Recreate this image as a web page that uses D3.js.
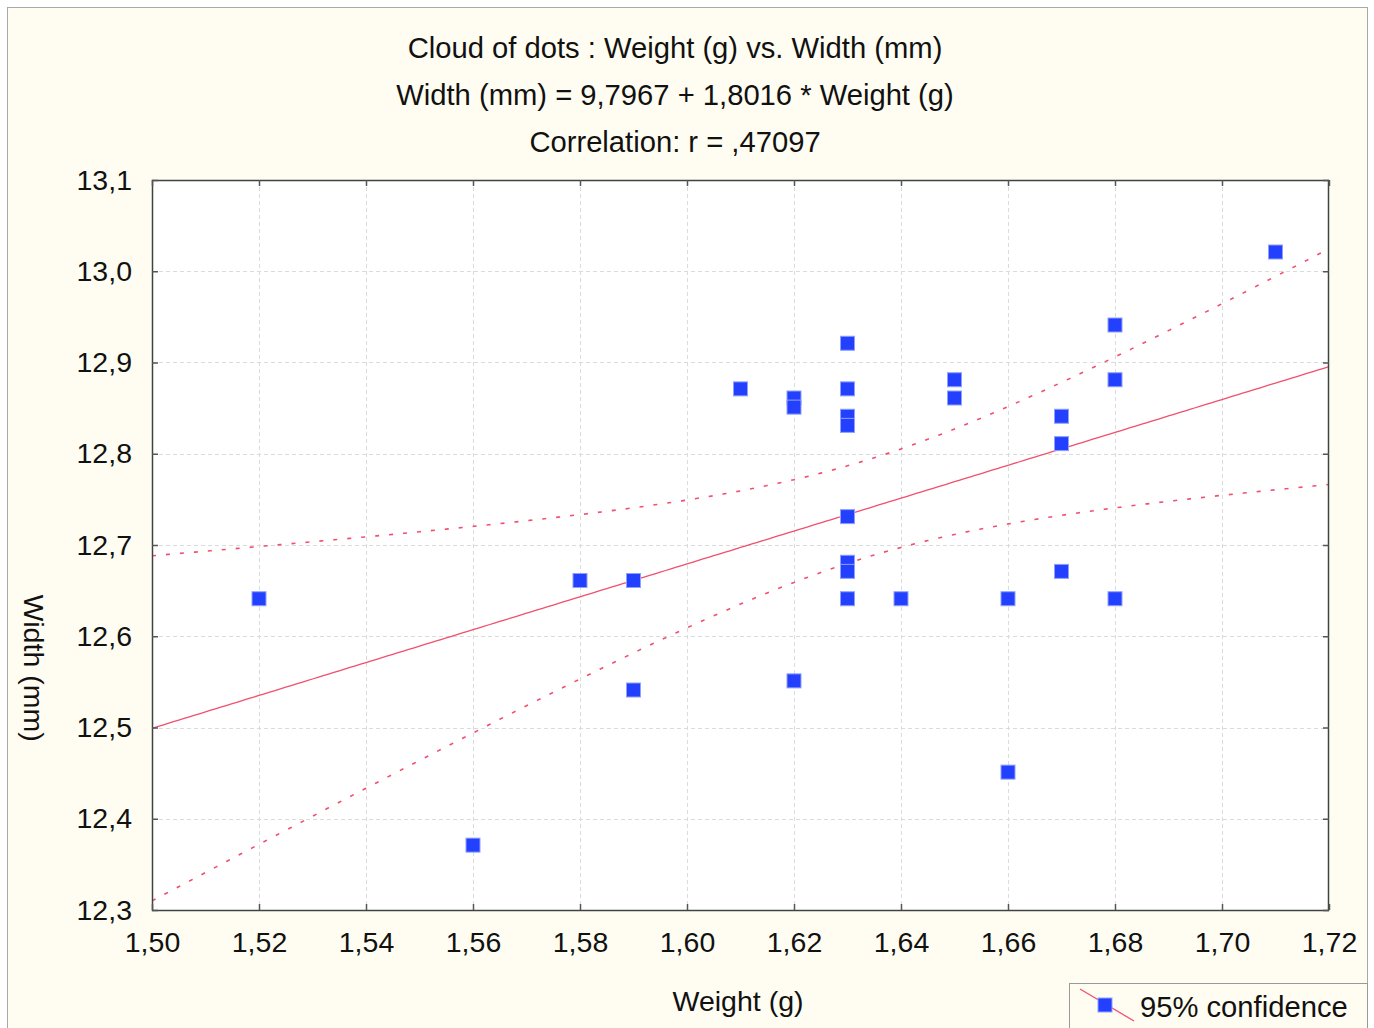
<!DOCTYPE html>
<html>
<head>
<meta charset="utf-8">
<script src="https://cdn.jsdelivr.net/npm/d3@7"></script>
<style>
  html, body { margin: 0; padding: 0; background: #ffffff; }
  svg { display: block; }
  text { font-family: "Liberation Sans", Arial, sans-serif; fill: #111; }
</style>
</head>
<body>
<svg id="chart" width="1374" height="1028"></svg>
<script>
// ---- data ----
const weights = [1.52, 1.56, 1.58, 1.59, 1.59, 1.61, 1.62, 1.62, 1.62, 1.63, 1.63, 1.63, 1.63, 1.63, 1.63, 1.63, 1.63, 1.64, 1.65, 1.65, 1.66, 1.66, 1.67, 1.67, 1.67, 1.68, 1.68, 1.68, 1.71];
const widths  = [12.64, 12.37, 12.66, 12.66, 12.54, 12.87, 12.86, 12.85, 12.55, 12.92, 12.87, 12.84, 12.83, 12.73, 12.68, 12.67, 12.64, 12.64, 12.88, 12.86, 12.64, 12.45, 12.84, 12.81, 12.67, 12.94, 12.88, 12.64, 13.02];
const xTicks = [1.50, 1.52, 1.54, 1.56, 1.58, 1.60, 1.62, 1.64, 1.66, 1.68, 1.70, 1.72];
const yTicks = [12.3, 12.4, 12.5, 12.6, 12.7, 12.8, 12.9, 13.0, 13.1];
const intercept = 9.7967, slope = 1.8016;
const titleLines = ["Cloud of dots : Weight (g) vs. Width (mm)", "Width (mm) = 9,7967 + 1,8016 * Weight (g)", "Correlation: r = ,47097"];
const xTitle = "Weight (g)", yTitle = "Width (mm)", legendLabel = "95% confidence";
const tCrit = 2.052; // t(0.975, n-2)

const svg = d3.select("#chart");
const W = 1374, H = 1028;
const m = {left: 152, right: 1329, top: 180, bottom: 910};
const FS = 28.5, TFS = 29.2;

// background & outer border
svg.append("rect").attr("x", 0).attr("y", 0).attr("width", W).attr("height", H).attr("fill", "#ffffff");
svg.append("rect").attr("x", 7.5).attr("y", 7.5).attr("width", 1360).attr("height", 1030)
  .attr("fill", "#fffdf1").attr("stroke", "#a8a8a8").attr("stroke-width", 1);

const x = d3.scaleLinear().domain([1.50, 1.72]).range([m.left, m.right]);
const y = d3.scaleLinear().domain([12.3, 13.1]).range([m.bottom, m.top]);

// plot area
svg.append("rect").attr("x", m.left).attr("y", m.top).attr("width", m.right - m.left).attr("height", m.bottom - m.top).attr("fill", "#ffffff");

// grid
const grid = svg.append("g");
grid.selectAll("line.gx").data(xTicks.slice(1, -1)).join("line")
  .attr("x1", d => Math.round(x(d)) + 0.5).attr("x2", d => Math.round(x(d)) + 0.5)
  .attr("y1", m.top).attr("y2", m.bottom)
  .attr("stroke", "#d8dcdc").attr("stroke-dasharray", "4,3");
grid.selectAll("line.gy").data(yTicks.slice(1, -1)).join("line")
  .attr("y1", d => Math.round(y(d)) + 0.5).attr("y2", d => Math.round(y(d)) + 0.5)
  .attr("x1", m.left).attr("x2", m.right)
  .attr("stroke", "#d8dcdc").attr("stroke-dasharray", "4,3");

// regression & confidence band (computed from the data)
const n = weights.length;
const xm = d3.mean(weights);
const sxx = d3.sum(weights, w => (w - xm) ** 2);
const sse = d3.sum(weights, (w, i) => (widths[i] - (intercept + slope * w)) ** 2);
const s = Math.sqrt(sse / (n - 2));
const xs = d3.range(0, 221).map(i => 1.50 + i * 0.001);
const fit = w => intercept + slope * w;
const half = w => tCrit * s * Math.sqrt(1 / n + (w - xm) ** 2 / sxx);

svg.append("clipPath").attr("id", "clip").append("rect")
  .attr("x", m.left).attr("y", m.top).attr("width", m.right - m.left).attr("height", m.bottom - m.top);
const lines = svg.append("g").attr("clip-path", "url(#clip)");
const line = d3.line().x(d => x(d[0])).y(d => y(d[1]));
lines.append("path").datum(xs.map(w => [w, fit(w)])).attr("d", line)
  .attr("fill", "none").attr("stroke", "#f0506e").attr("stroke-width", 1.3);
lines.append("path").datum(xs.map(w => [w, fit(w) + half(w)])).attr("d", line)
  .attr("fill", "none").attr("stroke", "#f0506e").attr("stroke-width", 1.6).attr("stroke-dasharray", "4,10");
lines.append("path").datum(xs.map(w => [w, fit(w) - half(w)])).attr("d", line)
  .attr("fill", "none").attr("stroke", "#f0506e").attr("stroke-width", 1.6).attr("stroke-dasharray", "4,10");

// points
svg.append("g").selectAll("rect").data(weights.map((w, i) => [w, widths[i]])).join("rect")
  .attr("x", d => x(d[0]) - 7).attr("y", d => y(d[1]) - 8)
  .attr("width", 14).attr("height", 14)
  .attr("fill", "#2340ff").attr("stroke", "#8fa0ff").attr("stroke-width", 1);

// frame
svg.append("rect").attr("x", m.left + 0.5).attr("y", m.top + 0.5).attr("width", m.right - m.left - 1).attr("height", m.bottom - m.top)
  .attr("fill", "none").attr("stroke", "#3c4444").attr("stroke-width", 1.5);

// axes (inward ticks)
const xAx = svg.append("g").attr("transform", `translate(0,${m.bottom})`)
  .call(d3.axisBottom(x).tickValues(xTicks).tickSize(-6).tickFormat(d => d3.format(".2f")(d).replace(".", ",")));
const xAxTop = svg.append("g").attr("transform", `translate(0,${m.top})`)
  .call(d3.axisTop(x).tickValues(xTicks).tickSize(-6).tickFormat(""));
const yAx = svg.append("g").attr("transform", `translate(${m.left},0)`)
  .call(d3.axisLeft(y).tickValues(yTicks).tickSize(-6).tickFormat(d => d3.format(".1f")(d).replace(".", ",")));
const yAxR = svg.append("g").attr("transform", `translate(${m.right},0)`)
  .call(d3.axisRight(y).tickValues(yTicks).tickSize(-6).tickFormat(""));
[xAx, xAxTop, yAx, yAxR].forEach(g => {
  g.select(".domain").remove();
  g.selectAll(".tick line").attr("stroke", "#555").attr("stroke-width", 1.5);
  g.selectAll(".tick text").attr("font-size", FS).attr("font-family", "Liberation Sans, Arial, sans-serif").attr("fill", "#111");
});
xAx.selectAll(".tick text").attr("y", 22).attr("dy", "0.71em");
yAx.selectAll(".tick text").attr("x", -20).attr("dy", "0.32em");

// titles
svg.append("g").selectAll("text").data(titleLines).join("text")
  .attr("x", 675).attr("y", (d, i) => 58 + i * 47)
  .attr("text-anchor", "middle").attr("font-size", TFS).text(d => d);
svg.append("text").attr("x", 738).attr("y", 1011).attr("text-anchor", "middle").attr("font-size", FS).text(xTitle);
svg.append("text").attr("transform", "translate(24,668) rotate(90)").attr("text-anchor", "middle").attr("font-size", FS).text(yTitle);

// legend
const lg = svg.append("g");
lg.append("rect").attr("x", 1069.5).attr("y", 983.5).attr("width", 298).attr("height", 60)
  .attr("fill", "#fffdf1").attr("stroke", "#999").attr("stroke-width", 1);
lg.append("line").attr("x1", 1080).attr("y1", 989).attr("x2", 1134).attr("y2", 1021)
  .attr("stroke", "#f0506e").attr("stroke-width", 1.3);
lg.append("rect").attr("x", 1098).attr("y", 998).attr("width", 14).attr("height", 14)
  .attr("fill", "#2340ff").attr("stroke", "#8fa0ff");
lg.append("text").attr("x", 1140).attr("y", 1017).attr("font-size", TFS).text(legendLabel);
</script>
</body>
</html>
